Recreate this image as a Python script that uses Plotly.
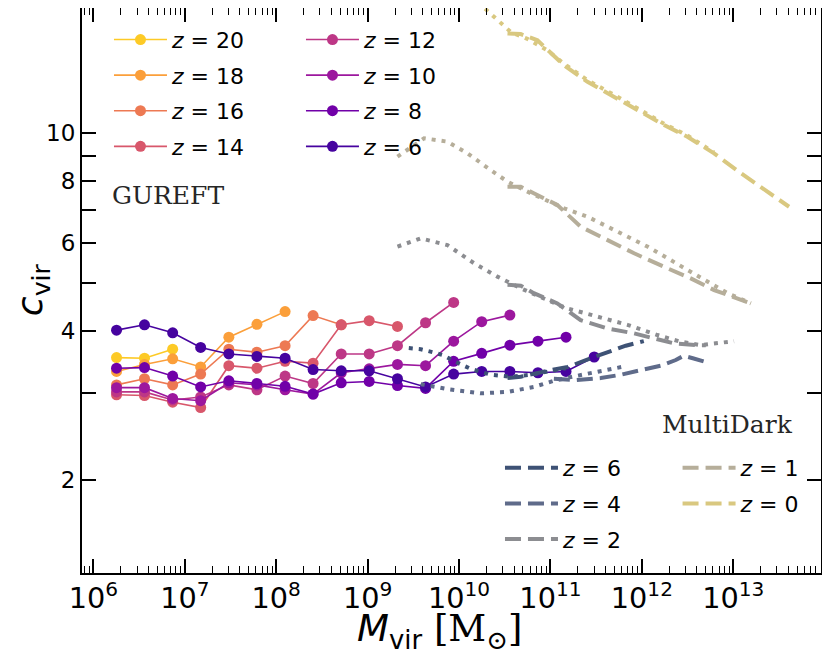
import plotly.graph_objects as go

# GUREFT halo mass bins (Msun), shared by every redshift
gureft_mass = [1.79e6, 3.62e6, 7.36e6, 1.49e7, 3.03e7, 6.15e7, 1.25e8, 2.53e8, 5.14e8,
               1.04e9, 2.12e9, 4.30e9, 8.73e9, 1.77e10, 3.60e10, 7.30e10, 1.48e11, 3.01e11]

gureft_z = [20, 18, 16, 14, 12, 10, 8, 6]
c_z20 = [3.53, 3.52, 3.67]
c_z18 = [3.31, 3.42, 3.51, 3.38, 3.88, 4.12, 4.37]
c_z16 = [3.11, 3.20, 3.11, 3.27, 3.67, 3.62, 3.73, 4.29, 4.11]
c_z14 = [2.97, 2.96, 2.87, 2.80, 3.40, 3.36, 3.47, 3.44, 4.11, 4.19, 4.08]
c_z12 = [3.01, 3.01, 2.90, 2.94, 3.11, 3.04, 3.24, 3.13, 3.59, 3.59, 3.73, 4.15, 4.56]
c_z10 = [3.07, 3.07, 2.92, 2.89, 3.14, 3.11, 3.04, 2.98, 3.29, 3.35, 3.42, 3.40, 3.81, 4.17, 4.30]
c_z8 = [3.36, 3.37, 3.24, 3.08, 3.17, 3.13, 3.09, 2.98, 3.14, 3.16, 3.10, 3.06, 3.47, 3.60, 3.74,
        3.81, 3.88]
c_z6 = [4.01, 4.11, 3.96, 3.70, 3.59, 3.55, 3.52, 3.34, 3.32, 3.32, 3.20, 3.08, 3.27, 3.31, 3.31,
        3.29, 3.31, 3.54]
gureft_c = [c_z20, c_z18, c_z16, c_z14, c_z12, c_z10, c_z8, c_z6]
gureft_colors = ['#fdca26', '#fb9f3a', '#ed7953', '#d8576b',
                 '#bd3786', '#9c179e', '#7100a8', '#46039f']

# MultiDark: dashed = main relation, dotted = low-mass extension
md_z = [6, 4, 2, 1, 0]
md6_dash_m = [3.39e10, 4.73e10, 1.01e11, 1.55e11, 2.76e11, 4.20e11, 6.67e11, 1.05e12]
md6_dash_c = [3.21, 3.23, 3.33, 3.38, 3.52, 3.62, 3.73, 3.81]
md6_dot_m = [2.82e9, 3.81e9, 5.15e9, 6.64e9, 9.20e9, 1.34e10, 2.22e10, 3.68e10, 6.09e10,
             1.01e11, 1.47e11]
md6_dot_c = [3.69, 3.67, 3.62, 3.57, 3.46, 3.35, 3.26, 3.23, 3.26, 3.32, 3.36]

md4_dash_m = [1.09e11, 1.89e11, 3.55e11, 5.88e11, 9.73e11, 1.61e12, 2.35e12, 2.87e12, 3.61e12,
              5.00e12]
md4_dash_c = [3.20, 3.18, 3.21, 3.26, 3.33, 3.40, 3.49, 3.56, 3.52, 3.46]
md4_dot_m = [3.81e9, 7.52e9, 1.73e10, 3.39e10, 6.57e10, 1.09e11, 1.89e11, 3.55e11, 6.03e11]
md4_dot_c = [3.12, 3.05, 2.99, 3.01, 3.08, 3.17, 3.24, 3.32, 3.38]

md2_dash_m = [3.39e10, 4.73e10, 6.57e10, 1.19e11, 2.14e11, 4.20e11, 8.22e11, 1.36e12, 2.25e12,
              4.06e12, 5.00e12]
md2_dash_c = [4.95, 4.93, 4.76, 4.54, 4.20, 4.04, 3.95, 3.86, 3.77, 3.74, 3.74]
md2_dot_m = [2.12e9, 3.81e9, 7.47e9, 1.46e10, 2.63e10, 4.73e10, 9.27e10, 1.50e11, 3.27e11,
             6.96e11, 1.48e12, 2.66e12, 4.41e12, 6.72e12, 1.02e13]
md2_dot_c = [5.91, 6.14, 5.95, 5.47, 5.14, 4.87, 4.61, 4.44, 4.27, 4.11, 3.92, 3.80, 3.74, 3.77,
             3.81]

md1_dash_m = [3.39e10, 4.73e10, 6.57e10, 1.19e11, 2.14e11, 4.20e11, 8.22e11, 1.75e12, 3.43e12,
              6.17e12, 1.56e13]
md1_dash_c = [7.80, 7.80, 7.57, 7.17, 6.48, 6.09, 5.73, 5.38, 5.10, 4.83, 4.54]
md1_dot_m = [2.12e9, 4.14e9, 7.47e9, 1.24e10, 2.22e10, 3.39e10, 6.09e10, 1.41e11, 2.54e11,
             4.97e11, 1.15e12, 2.07e12, 4.80e12, 8.65e12, 1.56e13]
md1_dot_c = [8.97, 9.77, 9.62, 9.11, 8.43, 7.99, 7.57, 7.06, 6.79, 6.38, 5.91, 5.55, 5.06, 4.76,
             4.54]

md0_dash_m = [3.39e10, 4.73e10, 7.21e10, 1.41e11, 2.54e11, 4.97e11, 9.73e11, 1.75e12, 3.15e12,
              6.17e12, 1.21e13, 2.17e13, 4.08e13]
md0_dash_c = [15.9, 15.85, 15.4, 13.7, 12.7, 11.85, 11.06, 10.39, 9.84, 9.11, 8.31, 7.69, 7.11]
md0_dot_m = [1.60e10, 2.63e10, 3.68e10, 5.60e10, 9.27e10, 1.41e11, 2.54e11, 4.97e11, 9.73e11,
             1.75e12, 3.15e12, 6.17e12]
md0_dot_c = [18.4, 16.9, 16.0, 15.5, 14.7, 13.8, 12.8, 11.95, 11.15, 10.45, 9.9, 9.15]

md_dash = [(md6_dash_m, md6_dash_c), (md4_dash_m, md4_dash_c), (md2_dash_m, md2_dash_c),
           (md1_dash_m, md1_dash_c), (md0_dash_m, md0_dash_c)]
md_dot = [(md6_dot_m, md6_dot_c), (md4_dot_m, md4_dot_c), (md2_dot_m, md2_dot_c),
          (md1_dot_m, md1_dot_c), (md0_dot_m, md0_dot_c)]
md_colors = ['#3e5275', '#5f6b8a', '#8c8d91', '#b6ae9a', '#d9c880']

# y ticks: labelled and unlabelled positions
c_ticks = [2, 4, 6, 8, 10]
c_minor_ticks = [3, 5, 7, 9]

fig = go.Figure()

for i, (z, c, col) in enumerate(zip(gureft_z, gureft_c, gureft_colors)):
    fig.add_trace(go.Scatter(
        x=gureft_mass[:len(c)], y=c, mode='lines+markers',
        line=dict(color=col, width=1.6),
        marker=dict(color=col, size=11),
        name=f'<i>z</i> = {z}', legendgroup=f'g{z}',
        legend='legend' if i < 4 else 'legend2',
    ))

for i, (z, col) in enumerate(zip(md_z, md_colors)):
    m, c = md_dot[i]
    fig.add_trace(go.Scatter(
        x=m, y=c, mode='lines', line=dict(color=col, width=4, dash='4px,6px'),
        showlegend=False, legendgroup=f'md{z}',
        legend='legend3' if i < 3 else 'legend4',
    ))
    m, c = md_dash[i]
    fig.add_trace(go.Scatter(
        x=m, y=c, mode='lines', line=dict(color=col, width=4, dash='16px,7px'),
        name=f'<i>z</i> = {z}', legendgroup=f'md{z}',
        legend='legend3' if i < 3 else 'legend4',
    ))

leg = dict(xanchor='left', yanchor='top', bgcolor='rgba(0,0,0,0)', borderwidth=0,
           font=dict(family='DejaVu Sans', size=22, color='black'),
           tracegroupgap=4, itemwidth=53)

axis_common = dict(
    showline=True, linecolor='black', linewidth=2, mirror='allticks',
    ticks='inside', tickcolor='black', showgrid=False, zeroline=False,
    automargin=False,
    tickfont=dict(family='DejaVu Sans', size=23, color='black'),
)

serif_font = dict(family='DejaVu Serif', size=25, color='#262626')

# page body adds an 8px offset, so margins are shifted to keep the plot frame in place
fig.update_layout(
    width=830, height=655,
    margin=dict(l=74, r=17, t=0, b=90),
    paper_bgcolor='white', plot_bgcolor='white',
    font=dict(family='DejaVu Sans', size=22, color='black'),
    xaxis=dict(
        type='log', range=[5.875, 13.96], dtick=1, exponentformat='power',
        ticklen=14, tickwidth=1.5,
        minor=dict(ticks='inside', ticklen=7, tickwidth=1, dtick='D1', tickcolor='black',
                   showgrid=False),
        **axis_common,
    ),
    yaxis=dict(
        type='log', range=[0.1135, 1.2526],
        tickvals=c_ticks, ticktext=[str(v) for v in c_ticks],
        ticklen=14, tickwidth=1.5,
        minor=dict(ticks='inside', ticklen=14, tickwidth=1.5, tickvals=c_minor_ticks,
                   tickcolor='black', showgrid=False),
        **axis_common,
    ),
    legend=dict(x=0.0365, y=0.981, **leg),
    legend2=dict(x=0.2963, y=0.981, **leg),
    legend3=dict(x=0.5656, y=0.223, **leg),
    legend4=dict(x=0.8059, y=0.223, **leg),
    annotations=[
        dict(text='<i>M</i><sub>vir</sub> <span style="font-family:DejaVu Serif">[M<sub>⊙</sub>]</span>',
             xref='paper', yref='paper', x=0.4844, y=-0.102,
             xanchor='center', yanchor='middle', showarrow=False,
             font=dict(family='DejaVu Sans', size=37, color='black')),
        dict(text='<i>c</i><sub>vir</sub>', textangle=-90,
             xref='paper', yref='paper', x=-0.066, y=0.501,
             xanchor='center', yanchor='middle', showarrow=False,
             font=dict(family='DejaVu Sans', size=36, color='black')),
        dict(text='GUREFT', xref='paper', yref='paper', x=0.0379, y=0.669,
             xanchor='left', yanchor='middle', showarrow=False, font=serif_font),
        dict(text='MultiDark', xref='paper', yref='paper', x=0.874, y=0.262,
             xanchor='center', yanchor='middle', showarrow=False, font=serif_font),
    ],
)

fig.write_html("out.html")
